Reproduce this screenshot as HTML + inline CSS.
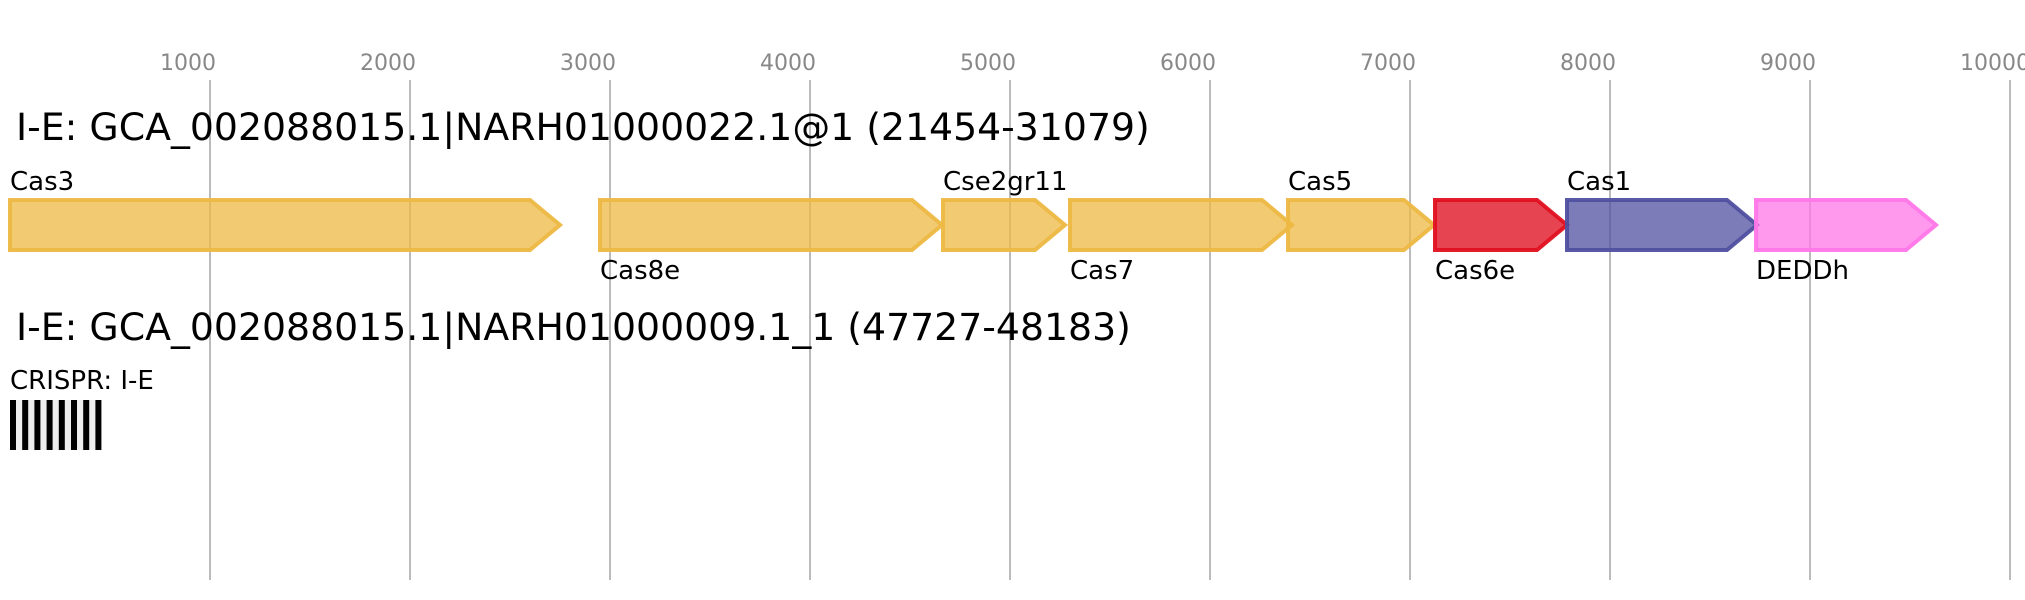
<!DOCTYPE html>
<html><head><meta charset="utf-8"><style>html,body{margin:0;padding:0;background:#fff}svg{display:block}text{font-family:"DejaVu Sans",sans-serif}</style></head>
<body>
<svg xmlns="http://www.w3.org/2000/svg" width="2025" height="600" viewBox="0 0 2025 600">
<g stroke="#bbb" stroke-width="2">
<line x1="210" y1="80" x2="210" y2="580"/><line x1="410" y1="80" x2="410" y2="580"/><line x1="610" y1="80" x2="610" y2="580"/><line x1="810" y1="80" x2="810" y2="580"/><line x1="1010" y1="80" x2="1010" y2="580"/><line x1="1210" y1="80" x2="1210" y2="580"/><line x1="1410" y1="80" x2="1410" y2="580"/><line x1="1610" y1="80" x2="1610" y2="580"/><line x1="1810" y1="80" x2="1810" y2="580"/><line x1="2010" y1="80" x2="2010" y2="580"/>
</g>
<g fill="#888" font-size="22">
<text x="160" y="70">1000</text><text x="360" y="70">2000</text><text x="560" y="70">3000</text><text x="760" y="70">4000</text><text x="960" y="70">5000</text><text x="1160" y="70">6000</text><text x="1360" y="70">7000</text><text x="1560" y="70">8000</text><text x="1760" y="70">9000</text><text x="1960" y="70">10000</text>
</g>
<text x="16" y="140" font-size="37.8">I-E: GCA_002088015.1|NARH01000022.1@1 (21454-31079)</text>
<text x="16" y="340" font-size="37.8">I-E: GCA_002088015.1|NARH01000009.1_1 (47727-48183)</text>
<g stroke-width="4" stroke-linejoin="miter">
<g fill="#edb843" fill-opacity=".75" stroke="#edb843" stroke-opacity=".95">
<polygon points="10,200 530,200 560,225 530,250 10,250"/>
<polygon points="600,200 912,200 942,225 912,250 600,250"/>
<polygon points="943,200 1035,200 1065,225 1035,250 943,250"/>
<polygon points="1070,200 1262,200 1292,225 1262,250 1070,250"/>
<polygon points="1288,200 1404,200 1434,225 1404,250 1288,250"/>
</g>
<polygon points="1435,200 1537,200 1567,225 1537,250 1435,250" fill="#e01020" fill-opacity=".78" stroke="#e01020" stroke-opacity=".95"/>
<polygon points="1567,200 1727,200 1757,225 1727,250 1567,250" fill="#5050a0" fill-opacity=".75" stroke="#5050a0" stroke-opacity=".95"/>
<polygon points="1756,200 1906,200 1936,225 1906,250 1756,250" fill="#ff77e8" fill-opacity=".75" stroke="#ff77e8" stroke-opacity=".95"/>
</g>
<g fill="#000" font-size="26">
<text x="10" y="190">Cas3</text>
<text x="600" y="279">Cas8e</text>
<text x="943" y="190">Cse2gr11</text>
<text x="1070" y="279">Cas7</text>
<text x="1288" y="190">Cas5</text>
<text x="1435" y="279">Cas6e</text>
<text x="1567" y="190">Cas1</text>
<text x="1756" y="279">DEDDh</text>
<text x="10" y="389">CRISPR: I-E</text>
</g>
<rect x="10" y="400" width="91" height="50" fill="#eee"/>
<g fill="#000">
<rect x="10" y="400" width="6" height="50"/><rect x="22.2" y="400" width="6" height="50"/><rect x="34.4" y="400" width="6" height="50"/><rect x="46.6" y="400" width="6" height="50"/><rect x="58.8" y="400" width="6" height="50"/><rect x="71" y="400" width="6" height="50"/><rect x="83.2" y="400" width="6" height="50"/><rect x="95.4" y="400" width="6" height="50"/>
</g>
</svg>
</body></html>
